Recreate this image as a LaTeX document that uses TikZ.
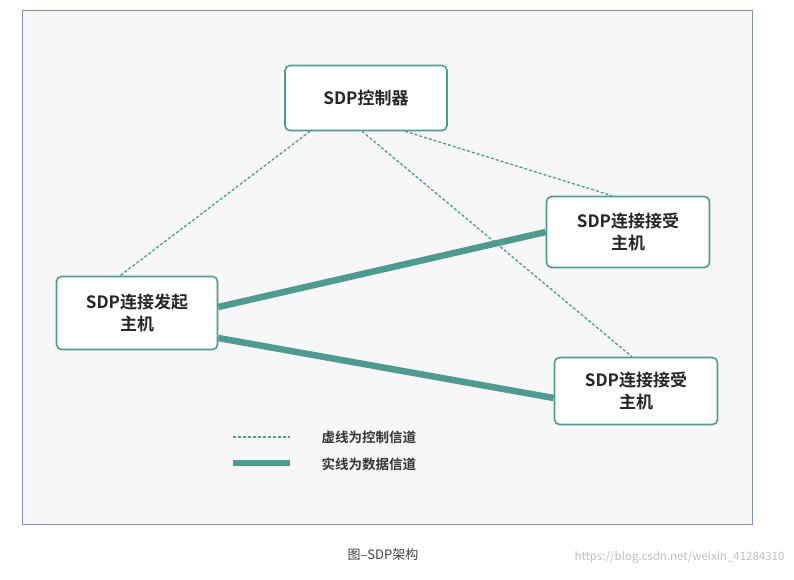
\documentclass[tikz,border=0pt]{standalone}
\usepackage{fontspec}
\setmainfont{Noto Sans CJK SC}
\newfontfamily\cjkb{Noto Sans CJK SC Bold}
\definecolor{teal1}{HTML}{4F9A93}
\definecolor{frame}{HTML}{8090C0}
\tikzset{
  hostbox/.style={draw=teal1, line width=1.6pt, rounded corners=5pt, fill=white, align=center, font=\cjkb\fontsize{17}{22}\selectfont, text=black!85, inner sep=0pt},
  ctrl/.style={draw=teal1, dash pattern=on 3pt off 2pt, line width=1.3pt},
  data/.style={draw=teal1, line width=6.5pt},
}
\begin{document}
\begin{tikzpicture}[x=1pt,y=-1pt]
\useasboundingbox (0,0) rectangle (794,579);
\node[draw=frame, fill=black!3, line width=0.8pt, minimum width=730pt, minimum height=514pt, anchor=north west, inner sep=0pt] (frm) at (22,10) {};
\node[hostbox, minimum width=162pt, minimum height=65pt] (c) at (366,98) {SDP控制器};
\node[hostbox, minimum width=163pt, minimum height=71pt] (r1) at (628,232) {SDP连接接受\\主机};
\node[hostbox, minimum width=161pt, minimum height=73pt] (i) at (137,313) {SDP连接发起\\主机};
\node[hostbox, minimum width=163pt, minimum height=67pt] (r2) at (636,391) {SDP连接接受\\主机};
\draw[ctrl] ([xshift=-56pt]c.south) -- ([xshift=-17pt]i.north);
\draw[ctrl] ([xshift=-4pt]c.south) -- ([xshift=-4pt]r2.north);
\draw[ctrl] ([xshift=39pt]c.south) -- ([xshift=-16pt]r1.north);
\draw[data] ([yshift=6pt]i.east) -- (r1.west);
\draw[data] ([yshift=-25pt]i.east) -- ([yshift=-7pt]r2.west);
\coordinate (l1a) at (233,437); \coordinate (l1b) at (290,437);
\coordinate (l2a) at (233,463); \coordinate (l2b) at (290,463);
\draw[ctrl] (l1a) -- (l1b);
\draw[data] (l2a) -- (l2b);
\node[anchor=west, font=\cjkb\fontsize{13.5}{16}\selectfont, text=black!80] (t1) at (318,437) {虚线为控制信道};
\node[anchor=west, font=\cjkb\fontsize{13.5}{16}\selectfont, text=black!80] (t2) at (318,464) {实线为数据信道};
\node[font=\fontsize{13}{15}\selectfont, text=black!75] (cap) at (383,555) {图–SDP架构};
\node[anchor=east, font=\fontsize{11.5}{13}\selectfont, text=black!25] (wm) at (788,557) {https://blog.csdn.net/weixin\_41284310};
\end{tikzpicture}
\end{document}
